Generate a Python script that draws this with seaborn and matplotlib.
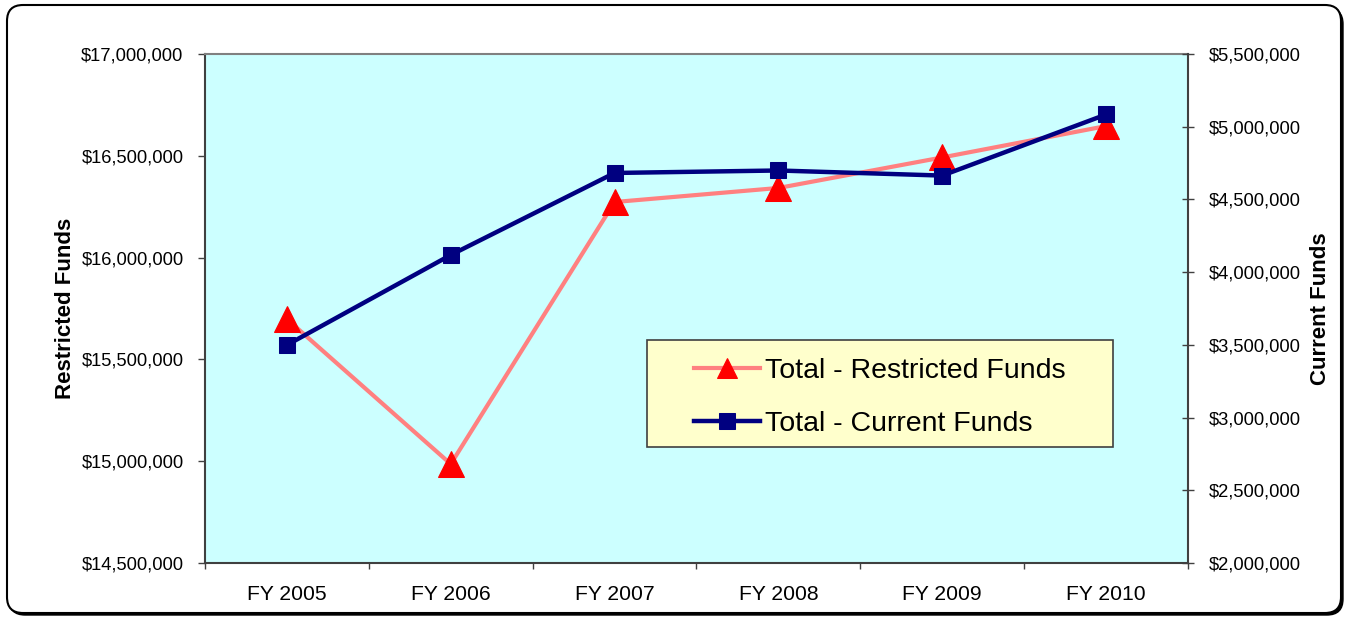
import numpy as np
import pandas as pd
import matplotlib
matplotlib.use('Agg')
import matplotlib.pyplot as plt
import seaborn as sns
from matplotlib.patches import FancyBboxPatch, Rectangle
from matplotlib.transforms import IdentityTransform
from matplotlib.ticker import FuncFormatter

years = ['FY 2005', 'FY 2006', 'FY 2007', 'FY 2008', 'FY 2009', 'FY 2010']
restricted = [15698000, 14986000, 16273000, 16342000, 16492000, 16646000]
current = [3499000, 4118000, 4682000, 4699000, 4664000, 5084000]

plt.rcParams['font.family'] = ['Liberation Sans', 'DejaVu Sans']

df = pd.DataFrame({'year': years, 'restricted': restricted, 'current': current})
df['pos'] = np.arange(len(df))

money = FuncFormatter(lambda v, p: f'${v:,.0f}')

fig = plt.figure(figsize=(13.46, 6.18), dpi=100)

# rounded outer frame with a small shadow
shadow = FancyBboxPatch((9, 3), 1334, 607, boxstyle='round,pad=0,rounding_size=16',
                        transform=IdentityTransform(), fc='black', ec='black', lw=1, zorder=-2)
frame = FancyBboxPatch((7, 5), 1334, 608, boxstyle='round,pad=0,rounding_size=16',
                       transform=IdentityTransform(), fc='white', ec='black', lw=1.5, zorder=-1)
fig.add_artist(shadow)
fig.add_artist(frame)

ax = fig.add_axes([205 / 1346, 55 / 618, 983 / 1346, 509 / 618])
ax.set_facecolor('#CCFFFF')

sns.lineplot(data=df, x='pos', y='restricted', ax=ax, color='#FF8080', linewidth=3,
             marker='^', markersize=19, markerfacecolor='#FF0000', markeredgecolor='#FF0000',
             label='Total - Restricted Funds', legend=False)

ax2 = ax.twinx()
sns.lineplot(data=df, x='pos', y='current', ax=ax2, color='#000080', linewidth=3.2,
             marker='s', markersize=12, markerfacecolor='#000080', markeredgecolor='#000080',
             label='Total - Current Funds', legend=False)

ax.set_xlim(-0.5, len(years) - 0.5)
ax.set_ylim(14500000, 17000000)
ax2.set_ylim(2000000, 5500000)
ax.set_yticks(np.arange(14500000, 17000001, 500000))
ax2.set_yticks(np.arange(2000000, 5500001, 500000))
ax.yaxis.set_major_formatter(money)
ax2.yaxis.set_major_formatter(money)

# ticks between categories, labels in the middle
ax.set_xticks(np.arange(-0.5, len(years), 1))
ax.set_xticklabels([])
ax.set_xticks(df['pos'], minor=True)
ax.set_xticklabels(years, minor=True)
ax.tick_params(axis='x', which='major', direction='out', length=4.5, width=1, color='#404040')
ax.tick_params(axis='x', which='minor', length=0, labelsize=15.2, pad=16)
ax.tick_params(axis='y', direction='out', length=5, width=1, color='#404040', labelsize=13.2, pad=10.5)
ax2.tick_params(axis='y', direction='inout', length=8.5, width=1, color='#404040', labelsize=13.2, pad=10.5)

ax.set_xlabel('')
ax.set_ylabel('Restricted Funds', fontsize=16, fontweight='bold')
ax.yaxis.set_label_coords(-0.1315, 0.5)
ax2.set_ylabel('Current Funds', fontsize=16, fontweight='bold')
ax2.yaxis.set_label_coords(1.1245, 0.5)

for s in ['left', 'bottom']:
    ax.spines[s].set_color('#404040')
    ax.spines[s].set_linewidth(1.5)
ax.spines['top'].set_color('#808080')
ax.spines['top'].set_linewidth(1.5)
ax.spines['right'].set_visible(False)
for s in ['left', 'bottom', 'top']:
    ax2.spines[s].set_visible(False)
ax2.spines['right'].set_color('#404040')
ax2.spines['right'].set_linewidth(1.5)

# legend box
ax2.add_patch(Rectangle((0.4497, 0.2279), 0.474, 0.2102, transform=ax2.transAxes,
                        fc='#FFFFCC', ec='#404040', lw=1.2, zorder=4))
h1, l1 = ax.get_legend_handles_labels()
h2, l2 = ax2.get_legend_handles_labels()
leg = ax2.legend(h1 + h2, l1 + l2, loc='center', bbox_to_anchor=(0.6867, 0.325),
                 frameon=False, fontsize=20.5, handlelength=2.3, handletextpad=0.2,
                 labelspacing=0.95, borderpad=0)
leg.set_zorder(5)
leg.legend_handles[0].set_markersize(15)

fig.savefig('out.png', dpi=100)
